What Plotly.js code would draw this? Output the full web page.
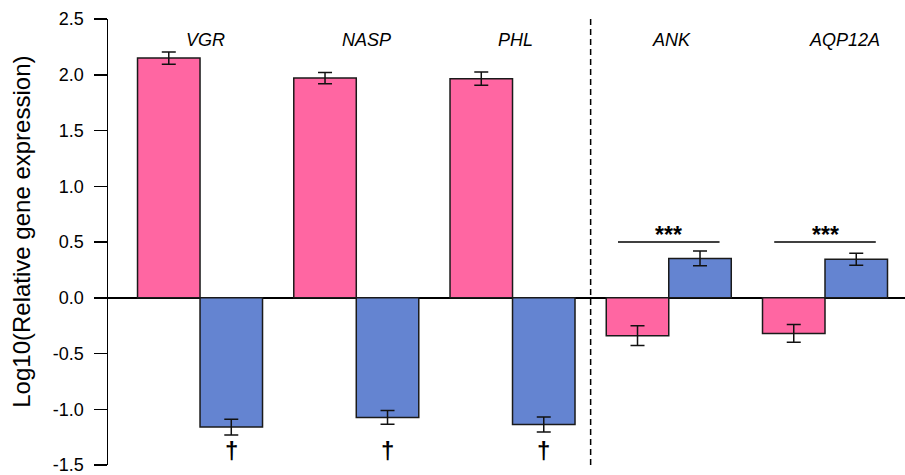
<!DOCTYPE html>
<html>
<head>
<meta charset="utf-8">
<script src="https://cdn.plot.ly/plotly-3.0.1.min.js"></script>
<style>html,body{margin:0;padding:0;background:#fff;}#chart{width:905px;height:475px;}</style>
</head>
<body>
<div id="chart"></div>
<script>
// ---- data ----
const genes = ['VGR', 'NASP', 'PHL', 'ANK', 'AQP12A'];
const pinkValues = [2.15, 1.97, 1.965, -0.34, -0.32];
const pinkErrors = [0.055, 0.05, 0.06, 0.088, 0.079];
const blueValues = [-1.16, -1.073, -1.136, 0.353, 0.346];
const blueErrors = [0.07, 0.061, 0.067, 0.067, 0.054];
const daggerGenes = ['VGR', 'NASP', 'PHL'];
const starGenes = ['ANK', 'AQP12A'];
const starText = '***';
const daggerText = '\u2020';
const yTickValues = [-1.5, -1.0, -0.5, 0.0, 0.5, 1.0, 1.5, 2.0, 2.5];
const yTickLabels = ['-1.5', '-1.0', '-0.5', '0.0', '0.5', '1.0', '1.5', '2.0', '2.5'];
const yTitle = 'Log10(Relative gene expression)';

// ---- style ----
const PINK = '#FF66A2';
const BLUE = '#6484D1';
const FONT = 'Liberation Sans, Arial, sans-serif';
const idx = g => genes.indexOf(g);

const traces = [
  {
    type: 'bar', x: genes, y: pinkValues, hoverinfo: 'skip', name: 'pink',
    marker: {color: PINK, line: {color: '#1a1a1a', width: 1.5}},
    error_y: {type: 'data', array: pinkErrors, visible: true, color: '#111', thickness: 1.5, width: 7}
  },
  {
    type: 'bar', x: genes, y: blueValues, hoverinfo: 'skip', name: 'blue',
    marker: {color: BLUE, line: {color: '#1a1a1a', width: 1.5}},
    error_y: {type: 'data', array: blueErrors, visible: true, color: '#111', thickness: 1.5, width: 7}
  }
];

const labelNudge = [5, 10, 3, 3, 19];
const annotations = [];
genes.forEach((g, i) => {
  annotations.push({x: i, y: 2.31, xref: 'x', yref: 'y', text: g, showarrow: false,
    xshift: labelNudge[i], font: {family: FONT, size: 18, color: '#000', style: 'italic'}});
});
daggerGenes.forEach(g => {
  annotations.push({x: idx(g) + 0.2, y: -1.37, xref: 'x', yref: 'y', text: '<b>' + daggerText + '</b>', showarrow: false,
    font: {family: FONT, size: 24, color: '#000'}});
});
const shapes = [
  {type: 'line', xref: 'x', yref: 'y', x0: 2.5, x1: 2.5, y0: -1.5, y1: 2.5,
   line: {color: '#000', width: 1.5, dash: '6px,4px'}}
];
starGenes.forEach(g => {
  const i = idx(g);
  shapes.push({type: 'line', xref: 'x', yref: 'y', x0: i - 0.325, x1: i + 0.325, y0: 0.5, y1: 0.5,
    line: {color: '#000', width: 1.3}});
  annotations.push({x: i, y: 0.56, xref: 'x', yref: 'y', text: '<b>' + starText + '</b>', showarrow: false,
    font: {family: FONT, size: 23, color: '#000'}});
});
// y-axis title, drawn as rotated text
annotations.push({xref: 'paper', yref: 'paper', x: 0, y: 0.523, xanchor: 'center', yanchor: 'middle',
  xshift: -86, textangle: -90, text: yTitle, showarrow: false,
  font: {family: FONT, size: 24, color: '#000'}});

const layout = {
  width: 905, height: 475,
  margin: {l: 108, r: 0, t: 19, b: 10},
  paper_bgcolor: '#fff', plot_bgcolor: '#fff',
  barmode: 'group', bargap: 0.2, bargroupgap: 0,
  showlegend: false,
  font: {family: FONT, color: '#000'},
  xaxis: {range: [-0.589, 4.512], showticklabels: false, showgrid: false, zeroline: false,
    showline: false, ticks: '', fixedrange: true, categoryorder: 'array', categoryarray: genes},
  yaxis: {range: [-1.5, 2.5], tickvals: yTickValues, ticktext: yTickLabels,
    showgrid: false, zeroline: true, zerolinecolor: '#000', zerolinewidth: 1.5,
    showline: true, linecolor: '#000', linewidth: 1.5,
    ticks: 'outside', ticklen: 13, tickwidth: 1.5, tickcolor: '#000',
    tickfont: {family: FONT, size: 18, color: '#000'}, ticklabelstandoff: 6,
    ticklabeloverflow: 'allow',
    automargin: false, fixedrange: true},
  annotations: annotations,
  shapes: shapes
};

Plotly.newPlot('chart', traces, layout, {displayModeBar: false, staticPlot: true});
</script>
</body>
</html>
